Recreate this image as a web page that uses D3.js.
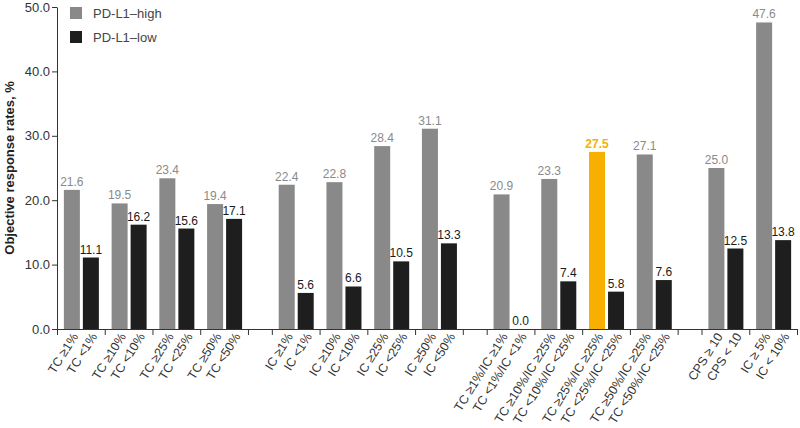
<!DOCTYPE html>
<html>
<head>
<meta charset="utf-8">
<script src="https://cdn.jsdelivr.net/npm/d3@7"></script>
<style>
  body { margin: 0; background: #fff; }
  svg { font-family: "Liberation Sans", Arial, sans-serif; }
</style>
</head>
<body>
<script>
// pairs: high (grey) label/value, low (black) label/value, group index
const highLabels = ['TC \u22651%', 'TC \u226510%', 'TC \u226525%', 'TC \u226550%',
                    'IC \u22651%', 'IC \u226510%', 'IC \u226525%', 'IC \u226550%',
                    'TC \u22651%/IC \u22651%', 'TC \u226510%/IC \u226525%', 'TC \u226525%/IC \u226525%', 'TC \u226550%/IC \u226525%',
                    'CPS \u2265 10', 'IC \u2265 5%']
const lowLabels = ['TC <1%', 'TC <10%', 'TC <25%', 'TC <50%',
                   'IC <1%', 'IC <10%', 'IC <25%', 'IC <50%',
                   'TC <1%/IC <1%', 'TC <10%/IC <25%', 'TC <25%/IC <25%', 'TC <50%/IC <25%',
                   'CPS < 10', 'IC < 10%']
const highValues = [21.6, 19.5, 23.4, 19.4, 22.4, 22.8, 28.4, 31.1, 20.9, 23.3, 27.5, 27.1, 25.0, 47.6]
const lowValues = [11.1, 16.2, 15.6, 17.1, 5.6, 6.6, 10.5, 13.3, 0.0, 7.4, 5.8, 7.6, 12.5, 13.8]
const groups = [0, 0, 0, 0, 1, 1, 1, 1, 2, 2, 2, 2, 3, 3]
const highlighted = 10   // TC >=25%/IC >=25%
const yTicks = [0, 10, 20, 30, 40, 50]
const legendLabels = ['PD-L1\u2013high', 'PD-L1\u2013low']

const width = 800, height = 428
const grey = '#898989', black = '#1e1e1e', orange = '#f7b000'

const svg = d3.select('body').append('svg')
    .attr('width', width)
    .attr('height', height)

// each pair takes 2 slots, a group gap takes 1 slot
const pairStart = groups.map((g, i) => 2 * i + g)
const nSlots = 2 * groups.length + d3.max(groups)

const x = d3.scaleLinear().domain([0, nSlots]).range([57, 797])
const y = d3.scaleLinear().domain([0, 50]).range([329, 7])

const data = highValues.map((v, i) => ({
    i: i, high: v, low: lowValues[i],
    hl: highLabels[i], ll: lowLabels[i],
    c: x(pairStart[i] + 1)
}))

// y axis
const yAxis = svg.append('g')
    .attr('transform', 'translate(57,0)')
    .call(d3.axisLeft(y).tickValues(yTicks).tickFormat(d3.format('.1f')).tickSize(5).tickSizeOuter(0))
yAxis.selectAll('text').attr('font-size', 13).attr('fill', '#333').attr('x', -7)
yAxis.selectAll('line, path').attr('stroke', '#333')

// x axis with ticks at pair edges
const edges = Array.from(new Set(pairStart.flatMap(s => [s, s + 2])))
const xAxis = svg.append('g')
    .attr('transform', 'translate(0,329)')
    .call(d3.axisBottom(x).tickValues(edges).tickFormat('').tickSize(6).tickSizeOuter(0))
xAxis.selectAll('line, path').attr('stroke', '#333')

svg.append('text')
    .attr('transform', 'translate(14,168) rotate(-90)')
    .attr('text-anchor', 'middle')
    .attr('font-size', 13)
    .attr('font-weight', 'bold')
    .attr('fill', '#222')
    .text('Objective response rates, %')

// bars
const barW = 16
svg.selectAll('rect.high')
    .data(data)
    .join('rect')
    .attr('class', 'high')
    .attr('x', d => d.c - 17)
    .attr('y', d => y(d.high))
    .attr('width', barW)
    .attr('height', d => y(0) - y(d.high))
    .attr('fill', d => d.i === highlighted ? orange : grey)

svg.selectAll('rect.low')
    .data(data)
    .join('rect')
    .attr('class', 'low')
    .attr('x', d => d.c + 2)
    .attr('y', d => y(d.low))
    .attr('width', barW)
    .attr('height', d => y(0) - y(d.low))
    .attr('fill', black)

// value labels
svg.selectAll('text.vh')
    .data(data)
    .join('text')
    .attr('class', 'vh')
    .attr('x', d => d.c - 9)
    .attr('y', d => y(d.high) - 4)
    .attr('text-anchor', 'middle')
    .attr('font-size', 12)
    .attr('font-weight', d => d.i === highlighted ? 'bold' : 'normal')
    .attr('fill', d => d.i === highlighted ? orange : '#8a8a8a')
    .text(d => d3.format('.1f')(d.high))

svg.selectAll('text.vl')
    .data(data)
    .join('text')
    .attr('class', 'vl')
    .attr('x', d => d.c + 10)
    .attr('y', d => y(d.low) - 4)
    .attr('text-anchor', 'middle')
    .attr('font-size', 12)
    .attr('fill', '#1a1a1a')
    .text(d => d3.format('.1f')(d.low))

// category labels, rotated
const catLabels = data.flatMap(d => [{t: d.hl, cx: d.c - 9}, {t: d.ll, cx: d.c + 10}])
svg.selectAll('text.cat')
    .data(catLabels)
    .join('text')
    .attr('class', 'cat')
    .attr('transform', d => `translate(${d.cx + 3},334) rotate(-58)`)
    .attr('text-anchor', 'end')
    .attr('dy', '0.35em')
    .attr('font-size', 12.5)
    .attr('fill', '#333')
    .text(d => d.t)

// legend
const legend = svg.selectAll('g.legend')
    .data(legendLabels)
    .join('g')
    .attr('class', 'legend')
    .attr('transform', (d, i) => `translate(70,${7 + i * 24})`)
legend.append('rect')
    .attr('width', 12).attr('height', 12)
    .attr('fill', (d, i) => i === 0 ? grey : black)
legend.append('text')
    .attr('x', 23).attr('y', 6).attr('dy', '0.35em')
    .attr('font-size', 13)
    .attr('fill', '#444')
    .text(d => d)
</script>
</body>
</html>
